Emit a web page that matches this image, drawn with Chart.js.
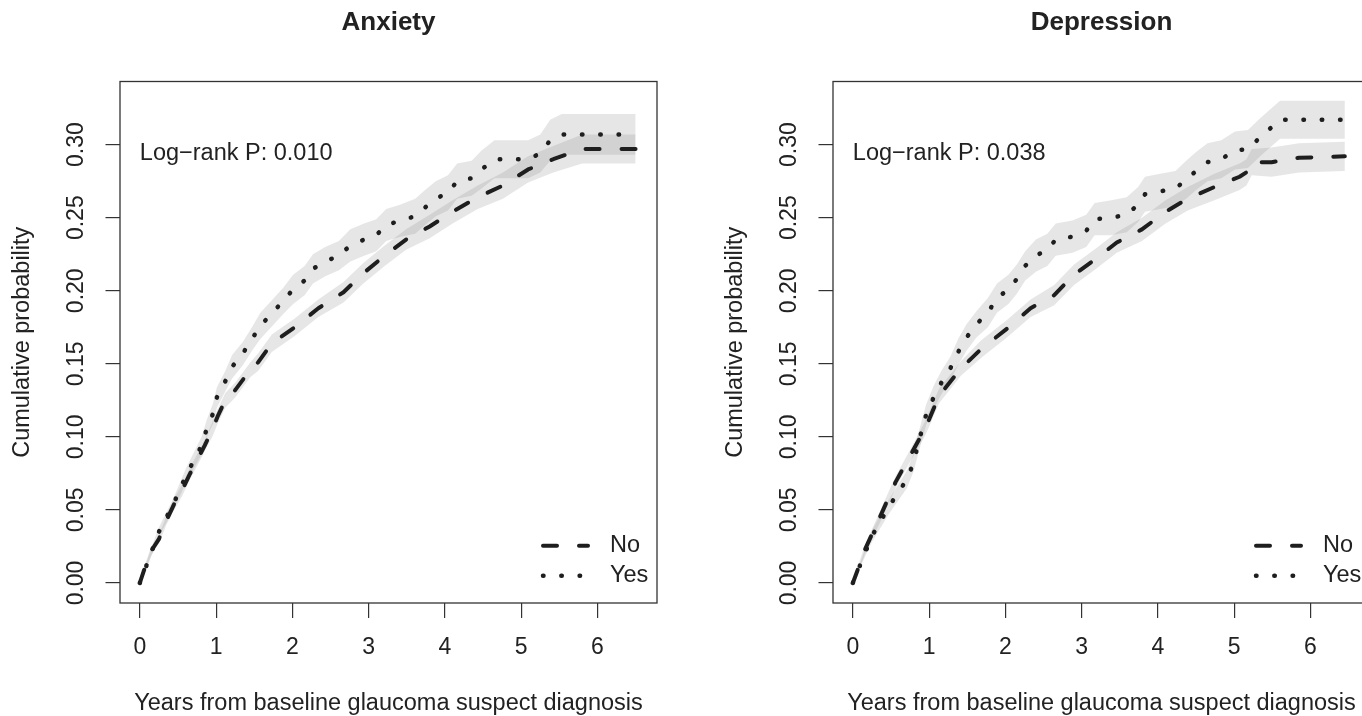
<!DOCTYPE html>
<html>
<head>
<meta charset="utf-8">
<script src="https://cdn.jsdelivr.net/npm/chart.js@4.4.1/dist/chart.umd.min.js"></script>
<style>
  html, body { margin: 0; padding: 0; background: #fff; overflow: hidden; width: 1362px; height: 716px; }
  canvas { position: absolute; top: 0; }
  #anx { left: 0; }
  #dep { left: 713px; }
</style>
</head>
<body>
<canvas id="anx" width="713" height="716"></canvas>
<canvas id="dep" width="713" height="716"></canvas>
<script>
// tick labels
const xTicks = [0, 1, 2, 3, 4, 5, 6];
const yTicks = [0, 0.05, 0.10, 0.15, 0.20, 0.25, 0.30];
const groups = ['No', 'Yes'];

// Anxiety - No
const anxNoTime = [0, 0.05, 0.15, 0.25, 0.35, 0.45, 0.55, 0.65, 0.75, 0.85, 0.95, 1.02, 1.12, 1.25, 1.45, 1.55, 1.73, 2.03, 2.34, 2.67, 2.93, 3.21, 3.49, 3.80, 4.10, 4.43, 4.76, 5.09, 5.42, 5.80, 6.50];
const anxNoEst  = [0, .008, .022, .030, .043, .054, .063, .074, .084, .094, .105, .114, .125, .132, .146, .151, .164, .175, .188, .199, .212, .224, .235, .244, .254, .264, .272, .283, .290, .297, .297];
const anxNoLow  = [0, .006, .019, .027, .040, .050, .059, .070, .080, .090, .100, .109, .120, .127, .141, .145, .158, .169, .182, .192, .205, .217, .228, .236, .246, .256, .263, .274, .281, .287, .287];
const anxNoHigh = [0, .010, .025, .033, .046, .058, .067, .078, .088, .098, .110, .119, .130, .137, .151, .157, .170, .181, .194, .206, .219, .231, .242, .252, .262, .272, .281, .292, .299, .307, .307];

// Anxiety - Yes
const anxYesTime = [0, 0.08, 0.18, 0.24, 0.44, 0.61, 0.81, 0.88, 0.96, 1.01, 1.12, 1.21, 1.35, 1.47, 1.58, 1.74, 1.88, 2.01, 2.16, 2.27, 2.43, 2.61, 2.76, 2.94, 3.10, 3.23, 3.42, 3.61, 3.74, 3.88, 4.04, 4.16, 4.35, 4.48, 4.65, 5.09, 5.25, 5.38, 5.53, 6.50];
const anxYesEst  = [0, .011, .025, .034, .054, .074, .094, .106, .116, .127, .138, .148, .157, .167, .176, .185, .193, .201, .207, .215, .220, .224, .231, .235, .238, .245, .248, .251, .257, .263, .267, .275, .277, .283, .290, .290, .294, .303, .307, .307];
const anxYesLow  = [0, .009, .022, .031, .050, .069, .088, .100, .109, .120, .131, .140, .149, .159, .167, .176, .184, .191, .197, .205, .210, .214, .220, .224, .227, .234, .237, .239, .245, .251, .255, .263, .265, .270, .277, .277, .281, .289, .293, .293];
const anxYesHigh = [0, .013, .028, .037, .058, .079, .100, .112, .123, .134, .145, .156, .165, .175, .185, .194, .202, .211, .217, .225, .230, .234, .242, .246, .249, .256, .259, .263, .269, .275, .279, .287, .289, .296, .303, .303, .307, .317, .321, .321];

// Depression - No
const depNoTime = [0, 0.05, 0.16, 0.38, 0.56, 0.75, 0.94, 1.00, 1.13, 1.42, 1.68, 2.02, 2.33, 2.64, 2.90, 3.19, 3.46, 3.79, 4.10, 4.39, 4.74, 5.07, 5.16, 5.23, 5.49, 5.85, 6.45];
const depNoEst  = [0, .007, .023, .048, .069, .087, .105, .112, .128, .147, .160, .174, .188, .197, .211, .222, .233, .242, .254, .263, .271, .278, .281, .288, .288, .291, .292];
const depNoLow  = [0, .005, .020, .044, .065, .083, .100, .107, .123, .142, .154, .168, .182, .190, .204, .215, .226, .234, .246, .255, .262, .269, .272, .279, .278, .281, .282];
const depNoHigh = [0, .009, .026, .052, .073, .091, .110, .117, .133, .152, .166, .180, .194, .204, .218, .229, .240, .250, .262, .271, .280, .287, .290, .297, .298, .301, .302];

// Depression - Yes
const depYesTime = [0, 0.25, 0.47, 0.71, 0.80, 0.85, 0.96, 1.06, 1.16, 1.28, 1.38, 1.49, 1.62, 1.77, 1.89, 2.04, 2.15, 2.26, 2.40, 2.55, 2.66, 2.88, 3.06, 3.17, 3.39, 3.59, 3.74, 3.83, 4.03, 4.23, 4.37, 4.50, 4.65, 4.83, 5.01, 5.18, 5.34, 5.47, 5.60, 6.45];
const depYesEst  = [0, .032, .052, .071, .083, .094, .115, .127, .137, .147, .158, .168, .177, .185, .195, .201, .208, .217, .224, .228, .235, .237, .241, .249, .250, .252, .259, .266, .268, .270, .276, .282, .288, .290, .296, .297, .305, .311, .317, .317];
const depYesLow  = [0, .028, .047, .065, .077, .087, .108, .119, .129, .139, .149, .159, .168, .175, .185, .191, .198, .207, .213, .217, .224, .226, .230, .238, .238, .240, .247, .254, .256, .258, .263, .269, .275, .277, .283, .284, .292, .298, .304, .304];
const depYesHigh = [0, .036, .057, .077, .089, .101, .122, .135, .145, .155, .167, .177, .186, .195, .205, .211, .218, .227, .235, .239, .246, .248, .252, .260, .262, .264, .271, .278, .280, .282, .289, .295, .301, .303, .309, .310, .318, .324, .330, .330];

const INK = '#1e1e1e';
const TXT = '#222';
const FAM = '"Liberation Sans", Arial, Helvetica, sans-serif';
const BAND = 'rgba(128,128,128,0.2)';
const noDash = [14, 22];
const yesDash = [0.5, 17.8];

function pts(t, v) {
  return t.map((x, i) => ({ x: x, y: v[i] }));
}

// frame, p-value text and legend, R style
const extras = {
  id: 'extras',
  afterDraw(chart, args, opts) {
    const { ctx, chartArea: a, scales: { x, y } } = chart;
    ctx.save();
    ctx.setLineDash([]);
    ctx.strokeStyle = '#333';
    ctx.lineWidth = 1.3;
    ctx.strokeRect(a.left, a.top, a.right - a.left, a.bottom - a.top);

    ctx.font = '23.5px ' + FAM;
    ctx.fillStyle = TXT;
    ctx.textBaseline = 'middle';
    ctx.textAlign = 'left';
    ctx.fillText(opts.pText, x.getPixelForValue(0), y.getPixelForValue(0.294));

    const dashes = [noDash, yesDash];
    groups.forEach((g, i) => {
      const yy = a.bottom - 57.3 + i * 30;
      ctx.beginPath();
      ctx.setLineDash(dashes[i]);
      ctx.lineCap = 'round';
      ctx.lineWidth = i === 0 ? 4 : 4.5;
      ctx.strokeStyle = INK;
      ctx.moveTo(a.right - 114, yy);
      ctx.lineTo(a.right - 69, yy);
      ctx.stroke();
      ctx.setLineDash([]);
      ctx.fillText(g, a.right - 47, yy);
    });
    ctx.restore();
  }
};

function makePanel(id, title, pText, s) {
  const lineBase = { pointRadius: 0, borderColor: INK, borderCapStyle: 'round', borderJoinStyle: 'round', fill: false, tension: 0 };
  const bandBase = { pointRadius: 0, borderColor: 'transparent', borderWidth: 0, backgroundColor: BAND, tension: 0 };
  const tickFont = { family: FAM, size: 23 };
  return new Chart(document.getElementById(id).getContext('2d'), {
    type: 'line',
    data: {
      datasets: [
        Object.assign({ label: 'No', data: pts(s.noT, s.noE), borderWidth: 4, borderDash: noDash }, lineBase),
        Object.assign({ label: 'Yes', data: pts(s.yesT, s.yesE), borderWidth: 4.5, borderDash: yesDash }, lineBase),
        Object.assign({ label: 'No upper', data: pts(s.noT, s.noH), fill: false }, bandBase),
        Object.assign({ label: 'No lower', data: pts(s.noT, s.noL), fill: '-1' }, bandBase),
        Object.assign({ label: 'Yes upper', data: pts(s.yesT, s.yesH), fill: false }, bandBase),
        Object.assign({ label: 'Yes lower', data: pts(s.yesT, s.yesL), fill: '-1' }, bandBase)
      ]
    },
    options: {
      responsive: false,
      animation: false,
      devicePixelRatio: 1,
      layout: { padding: { left: 0, right: 56, top: 0, bottom: 0 } },
      scales: {
        x: {
          type: 'linear', min: -0.26, max: 6.78,
          afterBuildTicks: sc => { sc.ticks = xTicks.map(v => ({ value: v })); },
          afterFit: sc => { sc.height = 113; },
          border: { display: false },
          grid: { drawOnChartArea: false, drawTicks: true, tickLength: 15, color: '#333', lineWidth: 1.2 },
          ticks: { minRotation: 0, maxRotation: 0, padding: 16, font: tickFont, color: TXT, callback: v => String(v) },
          title: { display: true, text: 'Years from baseline glaucoma suspect diagnosis', color: TXT,
                   font: { family: FAM, size: 23.5, lineHeight: 1 }, padding: { top: 0, bottom: 1 } }
        },
        y: {
          type: 'linear', min: -0.0137, max: 0.3432,
          afterBuildTicks: sc => { sc.ticks = yTicks.map(v => ({ value: v })); },
          afterFit: sc => { sc.width = 120; },
          border: { display: false },
          grid: { drawOnChartArea: false, drawTicks: true, tickLength: 14.5, color: '#333', lineWidth: 1.2 },
          ticks: { minRotation: 90, maxRotation: 90, crossAlign: 'center', padding: 6.6, font: tickFont, color: TXT,
                   callback: v => v.toFixed(2) },
          title: { display: true, text: 'Cumulative probability', color: TXT,
                   font: { family: FAM, size: 23.5, lineHeight: 1.2 }, padding: { top: 8, bottom: 0 } }
        }
      },
      plugins: {
        legend: { display: false },
        tooltip: { enabled: false },
        title: { display: true, text: title, fullSize: false, color: TXT,
                 font: { family: FAM, size: 26, weight: 'bold', lineHeight: 1.2 }, padding: { top: 7.4, bottom: 42.9 } },
        extras: { pText: pText }
      }
    },
    plugins: [extras]
  });
}

makePanel('anx', 'Anxiety', 'Log\u2212rank P: 0.010', {
  noT: anxNoTime, noE: anxNoEst, noL: anxNoLow, noH: anxNoHigh,
  yesT: anxYesTime, yesE: anxYesEst, yesL: anxYesLow, yesH: anxYesHigh
});
makePanel('dep', 'Depression', 'Log\u2212rank P: 0.038', {
  noT: depNoTime, noE: depNoEst, noL: depNoLow, noH: depNoHigh,
  yesT: depYesTime, yesE: depYesEst, yesL: depYesLow, yesH: depYesHigh
});
</script>
</body>
</html>
